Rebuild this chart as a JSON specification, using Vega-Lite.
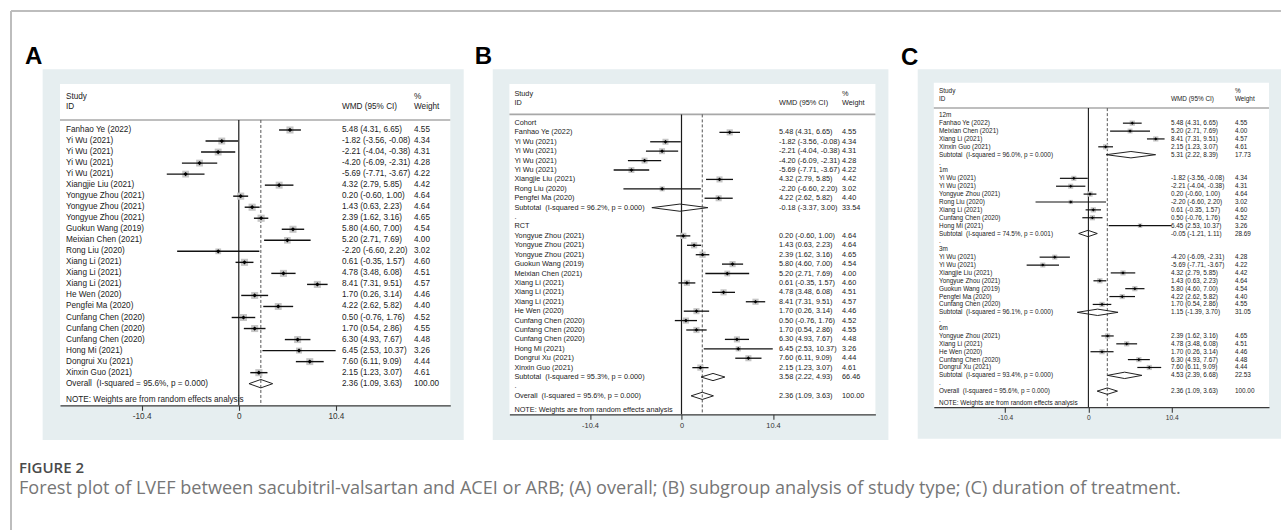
{
  "$schema": "https://vega.github.io/schema/vega-lite/v6.json",
  "background": "white",
  "padding": {"left": 9, "top": 9, "right": 0, "bottom": 0},
  "bounds": "flush",
  "spacing": 58.4,
  "resolve": {"scale": {"size": "independent"}},
  "config": {
    "view": {"stroke": null},
    "axisY": {"disable": true},
    "text": {"font": "Liberation Sans"}
  },
  "datasets": {
    "A": [
      {"r":0,"k":"s","id":"Fanhao Ye (2022)","est":5.48,"lo":4.31,"hi":6.65,"w":4.55,"ci":"5.48 (4.31, 6.65)","wt":"4.55"},
      {"r":1,"k":"s","id":"Yi Wu (2021)","est":-1.82,"lo":-3.56,"hi":-0.08,"w":4.34,"ci":"-1.82 (-3.56, -0.08)","wt":"4.34"},
      {"r":2,"k":"s","id":"Yi Wu (2021)","est":-2.21,"lo":-4.04,"hi":-0.38,"w":4.31,"ci":"-2.21 (-4.04, -0.38)","wt":"4.31"},
      {"r":3,"k":"s","id":"Yi Wu (2021)","est":-4.20,"lo":-6.09,"hi":-2.31,"w":4.28,"ci":"-4.20 (-6.09, -2.31)","wt":"4.28"},
      {"r":4,"k":"s","id":"Yi Wu (2021)","est":-5.69,"lo":-7.71,"hi":-3.67,"w":4.22,"ci":"-5.69 (-7.71, -3.67)","wt":"4.22"},
      {"r":5,"k":"s","id":"Xiangjie Liu (2021)","est":4.32,"lo":2.79,"hi":5.85,"w":4.42,"ci":"4.32 (2.79, 5.85)","wt":"4.42"},
      {"r":6,"k":"s","id":"Yongyue Zhou (2021)","est":0.20,"lo":-0.60,"hi":1.00,"w":4.64,"ci":"0.20 (-0.60, 1.00)","wt":"4.64"},
      {"r":7,"k":"s","id":"Yongyue Zhou (2021)","est":1.43,"lo":0.63,"hi":2.23,"w":4.64,"ci":"1.43 (0.63, 2.23)","wt":"4.64"},
      {"r":8,"k":"s","id":"Yongyue Zhou (2021)","est":2.39,"lo":1.62,"hi":3.16,"w":4.65,"ci":"2.39 (1.62, 3.16)","wt":"4.65"},
      {"r":9,"k":"s","id":"Guokun Wang (2019)","est":5.80,"lo":4.60,"hi":7.00,"w":4.54,"ci":"5.80 (4.60, 7.00)","wt":"4.54"},
      {"r":10,"k":"s","id":"Meixian Chen (2021)","est":5.20,"lo":2.71,"hi":7.69,"w":4.00,"ci":"5.20 (2.71, 7.69)","wt":"4.00"},
      {"r":11,"k":"s","id":"Rong Liu (2020)","est":-2.20,"lo":-6.60,"hi":2.20,"w":3.02,"ci":"-2.20 (-6.60, 2.20)","wt":"3.02"},
      {"r":12,"k":"s","id":"Xiang Li (2021)","est":0.61,"lo":-0.35,"hi":1.57,"w":4.60,"ci":"0.61 (-0.35, 1.57)","wt":"4.60"},
      {"r":13,"k":"s","id":"Xiang Li (2021)","est":4.78,"lo":3.48,"hi":6.08,"w":4.51,"ci":"4.78 (3.48, 6.08)","wt":"4.51"},
      {"r":14,"k":"s","id":"Xiang Li (2021)","est":8.41,"lo":7.31,"hi":9.51,"w":4.57,"ci":"8.41 (7.31, 9.51)","wt":"4.57"},
      {"r":15,"k":"s","id":"He Wen (2020)","est":1.70,"lo":0.26,"hi":3.14,"w":4.46,"ci":"1.70 (0.26, 3.14)","wt":"4.46"},
      {"r":16,"k":"s","id":"Pengfei Ma (2020)","est":4.22,"lo":2.62,"hi":5.82,"w":4.40,"ci":"4.22 (2.62, 5.82)","wt":"4.40"},
      {"r":17,"k":"s","id":"Cunfang Chen (2020)","est":0.50,"lo":-0.76,"hi":1.76,"w":4.52,"ci":"0.50 (-0.76, 1.76)","wt":"4.52"},
      {"r":18,"k":"s","id":"Cunfang Chen (2020)","est":1.70,"lo":0.54,"hi":2.86,"w":4.55,"ci":"1.70 (0.54, 2.86)","wt":"4.55"},
      {"r":19,"k":"s","id":"Cunfang Chen (2020)","est":6.30,"lo":4.93,"hi":7.67,"w":4.48,"ci":"6.30 (4.93, 7.67)","wt":"4.48"},
      {"r":20,"k":"s","id":"Hong Mi (2021)","est":6.45,"lo":2.53,"hi":10.37,"w":3.26,"ci":"6.45 (2.53, 10.37)","wt":"3.26"},
      {"r":21,"k":"s","id":"Dongrui Xu (2021)","est":7.60,"lo":6.11,"hi":9.09,"w":4.44,"ci":"7.60 (6.11, 9.09)","wt":"4.44"},
      {"r":22,"k":"s","id":"Xinxin Guo (2021)","est":2.15,"lo":1.23,"hi":3.07,"w":4.61,"ci":"2.15 (1.23, 3.07)","wt":"4.61"},
      {"r":23,"k":"d","id":"Overall\u00a0 (I-squared = 95.6%, p = 0.000)","est":2.36,"lo":1.09,"hi":3.63,"w":100,"ci":"2.36 (1.09, 3.63)","wt":"100.00"}
    ],
    "B": [
      {"r":0,"k":"g","id":"Cohort"},
      {"r":1,"k":"s","id":"Fanhao Ye (2022)","est":5.48,"lo":4.31,"hi":6.65,"w":4.55,"ci":"5.48 (4.31, 6.65)","wt":"4.55"},
      {"r":2,"k":"s","id":"Yi Wu (2021)","est":-1.82,"lo":-3.56,"hi":-0.08,"w":4.34,"ci":"-1.82 (-3.56, -0.08)","wt":"4.34"},
      {"r":3,"k":"s","id":"Yi Wu (2021)","est":-2.21,"lo":-4.04,"hi":-0.38,"w":4.31,"ci":"-2.21 (-4.04, -0.38)","wt":"4.31"},
      {"r":4,"k":"s","id":"Yi Wu (2021)","est":-4.20,"lo":-6.09,"hi":-2.31,"w":4.28,"ci":"-4.20 (-6.09, -2.31)","wt":"4.28"},
      {"r":5,"k":"s","id":"Yi Wu (2021)","est":-5.69,"lo":-7.71,"hi":-3.67,"w":4.22,"ci":"-5.69 (-7.71, -3.67)","wt":"4.22"},
      {"r":6,"k":"s","id":"Xiangjie Liu (2021)","est":4.32,"lo":2.79,"hi":5.85,"w":4.42,"ci":"4.32 (2.79, 5.85)","wt":"4.42"},
      {"r":7,"k":"s","id":"Rong Liu (2020)","est":-2.20,"lo":-6.60,"hi":2.20,"w":3.02,"ci":"-2.20 (-6.60, 2.20)","wt":"3.02"},
      {"r":8,"k":"s","id":"Pengfei Ma (2020)","est":4.22,"lo":2.62,"hi":5.82,"w":4.40,"ci":"4.22 (2.62, 5.82)","wt":"4.40"},
      {"r":9,"k":"d","id":"Subtotal\u00a0 (I-squared = 96.2%, p = 0.000)","est":-0.18,"lo":-3.37,"hi":3.00,"w":33.54,"ci":"-0.18 (-3.37, 3.00)","wt":"33.54"},
      {"r":10,"k":"b","id":"."},
      {"r":11,"k":"g","id":"RCT"},
      {"r":12,"k":"s","id":"Yongyue Zhou (2021)","est":0.20,"lo":-0.60,"hi":1.00,"w":4.64,"ci":"0.20 (-0.60, 1.00)","wt":"4.64"},
      {"r":13,"k":"s","id":"Yongyue Zhou (2021)","est":1.43,"lo":0.63,"hi":2.23,"w":4.64,"ci":"1.43 (0.63, 2.23)","wt":"4.64"},
      {"r":14,"k":"s","id":"Yongyue Zhou (2021)","est":2.39,"lo":1.62,"hi":3.16,"w":4.65,"ci":"2.39 (1.62, 3.16)","wt":"4.65"},
      {"r":15,"k":"s","id":"Guokun Wang (2019)","est":5.80,"lo":4.60,"hi":7.00,"w":4.54,"ci":"5.80 (4.60, 7.00)","wt":"4.54"},
      {"r":16,"k":"s","id":"Meixian Chen (2021)","est":5.20,"lo":2.71,"hi":7.69,"w":4.00,"ci":"5.20 (2.71, 7.69)","wt":"4.00"},
      {"r":17,"k":"s","id":"Xiang Li (2021)","est":0.61,"lo":-0.35,"hi":1.57,"w":4.60,"ci":"0.61 (-0.35, 1.57)","wt":"4.60"},
      {"r":18,"k":"s","id":"Xiang Li (2021)","est":4.78,"lo":3.48,"hi":6.08,"w":4.51,"ci":"4.78 (3.48, 6.08)","wt":"4.51"},
      {"r":19,"k":"s","id":"Xiang Li (2021)","est":8.41,"lo":7.31,"hi":9.51,"w":4.57,"ci":"8.41 (7.31, 9.51)","wt":"4.57"},
      {"r":20,"k":"s","id":"He Wen (2020)","est":1.70,"lo":0.26,"hi":3.14,"w":4.46,"ci":"1.70 (0.26, 3.14)","wt":"4.46"},
      {"r":21,"k":"s","id":"Cunfang Chen (2020)","est":0.50,"lo":-0.76,"hi":1.76,"w":4.52,"ci":"0.50 (-0.76, 1.76)","wt":"4.52"},
      {"r":22,"k":"s","id":"Cunfang Chen (2020)","est":1.70,"lo":0.54,"hi":2.86,"w":4.55,"ci":"1.70 (0.54, 2.86)","wt":"4.55"},
      {"r":23,"k":"s","id":"Cunfang Chen (2020)","est":6.30,"lo":4.93,"hi":7.67,"w":4.48,"ci":"6.30 (4.93, 7.67)","wt":"4.48"},
      {"r":24,"k":"s","id":"Hong Mi (2021)","est":6.45,"lo":2.53,"hi":10.37,"w":3.26,"ci":"6.45 (2.53, 10.37)","wt":"3.26"},
      {"r":25,"k":"s","id":"Dongrui Xu (2021)","est":7.60,"lo":6.11,"hi":9.09,"w":4.44,"ci":"7.60 (6.11, 9.09)","wt":"4.44"},
      {"r":26,"k":"s","id":"Xinxin Guo (2021)","est":2.15,"lo":1.23,"hi":3.07,"w":4.61,"ci":"2.15 (1.23, 3.07)","wt":"4.61"},
      {"r":27,"k":"d","id":"Subtotal\u00a0 (I-squared = 95.3%, p = 0.000)","est":3.58,"lo":2.22,"hi":4.93,"w":66.46,"ci":"3.58 (2.22, 4.93)","wt":"66.46"},
      {"r":28,"k":"b","id":"."},
      {"r":29,"k":"d","id":"Overall\u00a0 (I-squared = 95.6%, p = 0.000)","est":2.36,"lo":1.09,"hi":3.63,"w":100,"ci":"2.36 (1.09, 3.63)","wt":"100.00"}
    ],
    "C": [
      {"r":0,"k":"g","id":"12m"},
      {"r":1,"k":"s","id":"Fanhao Ye (2022)","est":5.48,"lo":4.31,"hi":6.65,"w":4.55,"ci":"5.48 (4.31, 6.65)","wt":"4.55"},
      {"r":2,"k":"s","id":"Meixian Chen (2021)","est":5.20,"lo":2.71,"hi":7.69,"w":4.00,"ci":"5.20 (2.71, 7.69)","wt":"4.00"},
      {"r":3,"k":"s","id":"Xiang Li (2021)","est":8.41,"lo":7.31,"hi":9.51,"w":4.57,"ci":"8.41 (7.31, 9.51)","wt":"4.57"},
      {"r":4,"k":"s","id":"Xinxin Guo (2021)","est":2.15,"lo":1.23,"hi":3.07,"w":4.61,"ci":"2.15 (1.23, 3.07)","wt":"4.61"},
      {"r":5,"k":"d","id":"Subtotal\u00a0 (I-squared = 96.0%, p = 0.000)","est":5.31,"lo":2.22,"hi":8.39,"w":17.73,"ci":"5.31 (2.22, 8.39)","wt":"17.73"},
      {"r":6,"k":"b","id":"."},
      {"r":7,"k":"g","id":"1m"},
      {"r":8,"k":"s","id":"Yi Wu (2021)","est":-1.82,"lo":-3.56,"hi":-0.08,"w":4.34,"ci":"-1.82 (-3.56, -0.08)","wt":"4.34"},
      {"r":9,"k":"s","id":"Yi Wu (2021)","est":-2.21,"lo":-4.04,"hi":-0.38,"w":4.31,"ci":"-2.21 (-4.04, -0.38)","wt":"4.31"},
      {"r":10,"k":"s","id":"Yongyue Zhou (2021)","est":0.20,"lo":-0.60,"hi":1.00,"w":4.64,"ci":"0.20 (-0.60, 1.00)","wt":"4.64"},
      {"r":11,"k":"s","id":"Rong Liu (2020)","est":-2.20,"lo":-6.60,"hi":2.20,"w":3.02,"ci":"-2.20 (-6.60, 2.20)","wt":"3.02"},
      {"r":12,"k":"s","id":"Xiang Li (2021)","est":0.61,"lo":-0.35,"hi":1.57,"w":4.60,"ci":"0.61 (-0.35, 1.57)","wt":"4.60"},
      {"r":13,"k":"s","id":"Cunfang Chen (2020)","est":0.50,"lo":-0.76,"hi":1.76,"w":4.52,"ci":"0.50 (-0.76, 1.76)","wt":"4.52"},
      {"r":14,"k":"s","id":"Hong Mi (2021)","est":6.45,"lo":2.53,"hi":10.37,"w":3.26,"ci":"6.45 (2.53, 10.37)","wt":"3.26"},
      {"r":15,"k":"d","id":"Subtotal\u00a0 (I-squared = 74.5%, p = 0.001)","est":-0.05,"lo":-1.21,"hi":1.11,"w":28.69,"ci":"-0.05 (-1.21, 1.11)","wt":"28.69"},
      {"r":16,"k":"b","id":"."},
      {"r":17,"k":"g","id":"3m"},
      {"r":18,"k":"s","id":"Yi Wu (2021)","est":-4.20,"lo":-6.09,"hi":-2.31,"w":4.28,"ci":"-4.20 (-6.09, -2.31)","wt":"4.28"},
      {"r":19,"k":"s","id":"Yi Wu (2021)","est":-5.69,"lo":-7.71,"hi":-3.67,"w":4.22,"ci":"-5.69 (-7.71, -3.67)","wt":"4.22"},
      {"r":20,"k":"s","id":"Xiangjie Liu (2021)","est":4.32,"lo":2.79,"hi":5.85,"w":4.42,"ci":"4.32 (2.79, 5.85)","wt":"4.42"},
      {"r":21,"k":"s","id":"Yongyue Zhou (2021)","est":1.43,"lo":0.63,"hi":2.23,"w":4.64,"ci":"1.43 (0.63, 2.23)","wt":"4.64"},
      {"r":22,"k":"s","id":"Guokun Wang (2019)","est":5.80,"lo":4.60,"hi":7.00,"w":4.54,"ci":"5.80 (4.60, 7.00)","wt":"4.54"},
      {"r":23,"k":"s","id":"Pengfei Ma (2020)","est":4.22,"lo":2.62,"hi":5.82,"w":4.40,"ci":"4.22 (2.62, 5.82)","wt":"4.40"},
      {"r":24,"k":"s","id":"Cunfang Chen (2020)","est":1.70,"lo":0.54,"hi":2.86,"w":4.55,"ci":"1.70 (0.54, 2.86)","wt":"4.55"},
      {"r":25,"k":"d","id":"Subtotal\u00a0 (I-squared = 96.1%, p = 0.000)","est":1.15,"lo":-1.39,"hi":3.70,"w":31.05,"ci":"1.15 (-1.39, 3.70)","wt":"31.05"},
      {"r":26,"k":"b","id":"."},
      {"r":27,"k":"g","id":"6m"},
      {"r":28,"k":"s","id":"Yongyue Zhou (2021)","est":2.39,"lo":1.62,"hi":3.16,"w":4.65,"ci":"2.39 (1.62, 3.16)","wt":"4.65"},
      {"r":29,"k":"s","id":"Xiang Li (2021)","est":4.78,"lo":3.48,"hi":6.08,"w":4.51,"ci":"4.78 (3.48, 6.08)","wt":"4.51"},
      {"r":30,"k":"s","id":"He Wen (2020)","est":1.70,"lo":0.26,"hi":3.14,"w":4.46,"ci":"1.70 (0.26, 3.14)","wt":"4.46"},
      {"r":31,"k":"s","id":"Cunfang Chen (2020)","est":6.30,"lo":4.93,"hi":7.67,"w":4.48,"ci":"6.30 (4.93, 7.67)","wt":"4.48"},
      {"r":32,"k":"s","id":"Dongrui Xu (2021)","est":7.60,"lo":6.11,"hi":9.09,"w":4.44,"ci":"7.60 (6.11, 9.09)","wt":"4.44"},
      {"r":33,"k":"d","id":"Subtotal\u00a0 (I-squared = 93.4%, p = 0.000)","est":4.53,"lo":2.39,"hi":6.68,"w":22.53,"ci":"4.53 (2.39, 6.68)","wt":"22.53"},
      {"r":34,"k":"b","id":"."},
      {"r":35,"k":"d","id":"Overall\u00a0 (I-squared = 95.6%, p = 0.000)","est":2.36,"lo":1.09,"hi":3.63,"w":100,"ci":"2.36 (1.09, 3.63)","wt":"100.00"}
    ]
  },
  "hconcat": [
    {
      "width": 390.3,
      "height": 321.3,
      "data": {"name": "A"},
      "layer": [
        {"data": {"values": [{}]}, "mark": {"type": "rect", "color": "#e6eef0"},
         "encoding": {
           "x": {"datum": -21.0, "type": "quantitative", "scale": {"domain": [-19.143, 22.645], "nice": false, "zero": false},
                 "axis": {"values": [-10.4, 0, 10.4], "title": null, "grid": false, "domainColor": "#3a3a3a", "domainWidth": 1.2, "tickColor": "#3a3a3a", "tickWidth": 1.1, "tickSize": 5, "labelFont": "Liberation Sans", "labelFontSize": 8.2, "labelColor": "#333", "labelPadding": 2, "labelFlush": false, "labelOverlap": false, "labelExpr": "datum.value == 0 ? '0' : (datum.value < 0 ? '-' : '') + format(abs(datum.value), '.1f')", "zindex": 1}},
           "x2": {"datum": 24.08},
           "y": {"datum": -5.503, "type": "quantitative", "scale": {"domain": [-4.17, 24.96], "nice": false, "zero": false, "reverse": true}},
           "y2": {"datum": 28.105}}},
        {"data": {"values": [{}]}, "mark": {"type": "rect", "color": "#ffffff"},
         "encoding": {"x": {"datum": -19.143}, "x2": {"datum": 22.645}, "y": {"datum": -4.17}, "y2": {"datum": 24.96}}},
        {"data": {"values": [{}]}, "mark": {"type": "rule", "color": "#a8a8a8", "strokeWidth": 1.6},
         "encoding": {"x": {"datum": -19.143}, "x2": {"datum": 22.645}, "y": {"datum": -0.91}}},
        {"data": {"values": [{}]}, "mark": {"type": "rule", "color": "#1a1a1a", "strokeWidth": 1.2},
         "encoding": {"x": {"datum": 0}, "y": {"datum": -0.91}, "y2": {"datum": 24.96}}},
        {"data": {"values": [{}]}, "mark": {"type": "rule", "color": "#555555", "strokeWidth": 1, "strokeDash": [3, 2]},
         "encoding": {"x": {"datum": 2.36}, "y": {"datum": -0.91}, "y2": {"datum": 24.96}}},
        {"transform": [{"filter": "datum.k == 's'"}], "mark": {"type": "point", "shape": "square", "filled": true, "color": "#c6c6c6", "opacity": 1},
         "encoding": {"x": {"field": "est", "type": "quantitative"}, "y": {"field": "r", "type": "quantitative"},
                      "size": {"field": "w", "type": "quantitative", "scale": {"domain": [0, 5], "range": [0, 55]}, "legend": null}}},
        {"transform": [{"filter": "datum.k == 's'"}], "mark": {"type": "rule", "color": "#111111", "strokeWidth": 1.4},
         "encoding": {"x": {"field": "lo", "type": "quantitative"}, "x2": {"field": "hi"}, "y": {"field": "r", "type": "quantitative"}}},
        {"transform": [{"filter": "datum.k == 's'"}], "mark": {"type": "point", "shape": "diamond", "filled": true, "color": "#000000", "size": 18, "opacity": 1},
         "encoding": {"x": {"field": "est", "type": "quantitative"}, "y": {"field": "r", "type": "quantitative"}}},
        {"transform": [{"filter": "datum.k == 'd'"}], "mark": {"type": "rule", "color": "#222222", "strokeWidth": 1, "y2Offset": -4.2},
         "encoding": {"x": {"field": "lo", "type": "quantitative"}, "x2": {"field": "est"}, "y": {"field": "r", "type": "quantitative"}, "y2": {"field": "r"}}},
        {"transform": [{"filter": "datum.k == 'd'"}], "mark": {"type": "rule", "color": "#222222", "strokeWidth": 1, "yOffset": -4.2},
         "encoding": {"x": {"field": "est", "type": "quantitative"}, "x2": {"field": "hi"}, "y": {"field": "r", "type": "quantitative"}, "y2": {"field": "r"}}},
        {"transform": [{"filter": "datum.k == 'd'"}], "mark": {"type": "rule", "color": "#222222", "strokeWidth": 1, "y2Offset": 4.2},
         "encoding": {"x": {"field": "lo", "type": "quantitative"}, "x2": {"field": "est"}, "y": {"field": "r", "type": "quantitative"}, "y2": {"field": "r"}}},
        {"transform": [{"filter": "datum.k == 'd'"}], "mark": {"type": "rule", "color": "#222222", "strokeWidth": 1, "yOffset": 4.2},
         "encoding": {"x": {"field": "est", "type": "quantitative"}, "x2": {"field": "hi"}, "y": {"field": "r", "type": "quantitative"}, "y2": {"field": "r"}}},
        {"mark": {"type": "text", "align": "left", "baseline": "middle", "fontSize": 8.2, "color": "#222222"},
         "encoding": {"x": {"datum": -18.5}, "y": {"field": "r", "type": "quantitative"}, "text": {"field": "id"}}},
        {"transform": [{"filter": "isValid(datum.ci)"}], "mark": {"type": "text", "align": "left", "baseline": "middle", "fontSize": 8.2, "color": "#222222"},
         "encoding": {"x": {"datum": 11.05}, "y": {"field": "r", "type": "quantitative"}, "text": {"field": "ci"}}},
        {"transform": [{"filter": "isValid(datum.wt)"}], "mark": {"type": "text", "align": "left", "baseline": "middle", "fontSize": 8.2, "color": "#222222"},
         "encoding": {"x": {"datum": 18.76}, "y": {"field": "r", "type": "quantitative"}, "text": {"field": "wt"}}},
        {"data": {"values": [{}]}, "mark": {"type": "text", "align": "left", "baseline": "middle", "fontSize": 8.2, "color": "#222222", "text": "Study"},
         "encoding": {"x": {"datum": -18.5}, "y": {"datum": -3.0}}},
        {"data": {"values": [{}]}, "mark": {"type": "text", "align": "left", "baseline": "middle", "fontSize": 8.2, "color": "#222222", "text": "ID"},
         "encoding": {"x": {"datum": -18.5}, "y": {"datum": -2.08}}},
        {"data": {"values": [{}]}, "mark": {"type": "text", "align": "left", "baseline": "middle", "fontSize": 8.2, "color": "#222222", "text": "WMD (95% CI)"},
         "encoding": {"x": {"datum": 11.05}, "y": {"datum": -2.08}}},
        {"data": {"values": [{}]}, "mark": {"type": "text", "align": "left", "baseline": "middle", "fontSize": 8.2, "color": "#222222", "text": "%"},
         "encoding": {"x": {"datum": 18.76}, "y": {"datum": -3.0}}},
        {"data": {"values": [{}]}, "mark": {"type": "text", "align": "left", "baseline": "middle", "fontSize": 8.2, "color": "#222222", "text": "Weight"},
         "encoding": {"x": {"datum": 18.76}, "y": {"datum": -2.08}}},
        {"data": {"values": [{}]}, "mark": {"type": "text", "align": "left", "baseline": "middle", "fontSize": 8.2, "color": "#222222", "text": "NOTE: Weights are from random effects analysis"},
         "encoding": {"x": {"datum": -18.5}, "y": {"datum": 24.5}}},
        {"data": {"values": [{}]}, "mark": {"type": "text", "align": "left", "baseline": "alphabetic", "fontSize": 24, "fontWeight": "bold", "color": "#000000", "text": "A"},
         "encoding": {"x": {"datum": -22.89}, "y": {"datum": -5.96}}},
        {"data": {"values": [{}]}, "mark": {"type": "rule", "color": "#bdbdbd", "strokeWidth": 2},
         "encoding": {"x": {"datum": -24.39}, "x2": {"datum": 111.58}, "y": {"datum": -10.79}}},
        {"data": {"values": [{}]}, "mark": {"type": "rule", "color": "#bdbdbd", "strokeWidth": 2},
         "encoding": {"x": {"datum": -24.39}, "y": {"datum": -10.79}, "y2": {"datum": 36.26}}},
        {"data": {"values": [{}]}, "mark": {"type": "text", "align": "left", "baseline": "middle", "font": "Open Sans", "fontSize": 15, "fontWeight": 600, "color": "#4a4a4a", "text": "FIGURE 2"},
         "encoding": {"x": {"datum": -23.53}, "y": {"datum": 30.64}}},
        {"data": {"values": [{}]}, "mark": {"type": "text", "align": "left", "baseline": "middle", "font": "Open Sans", "fontSize": 18.1, "color": "#767676", "text": "Forest plot of LVEF between sacubitril-valsartan and ACEI or ARB; (A) overall; (B) subgroup analysis of study type; (C) duration of treatment."},
         "encoding": {"x": {"datum": -23.53}, "y": {"datum": 32.55}}}
      ]
    },
    {
      "width": 366,
      "height": 330.3,
      "data": {"name": "B"},
      "layer": [
        {"data": {"values": [{}]}, "mark": {"type": "rect", "color": "#e6eef0"},
         "encoding": {
           "x": {"datum": -21.45, "type": "quantitative", "scale": {"domain": [-19.557, 22.034], "nice": false, "zero": false},
                 "axis": {"values": [-10.4, 0, 10.4], "title": null, "grid": false, "domainColor": "#3a3a3a", "domainWidth": 1.2, "tickColor": "#3a3a3a", "tickWidth": 1.1, "tickSize": 5, "labelFont": "Liberation Sans", "labelFontSize": 7.4, "labelColor": "#333", "labelPadding": 2, "labelFlush": false, "labelOverlap": false, "labelExpr": "datum.value == 0 ? '0' : (datum.value < 0 ? '-' : '') + format(abs(datum.value), '.1f')", "zindex": 1}},
           "x2": {"datum": 23.51},
           "y": {"datum": -5.71, "type": "quantitative", "scale": {"domain": [-4.14, 30.96], "nice": false, "zero": false, "reverse": true}},
           "y2": {"datum": 33.69}}},
        {"data": {"values": [{}]}, "mark": {"type": "rect", "color": "#ffffff"},
         "encoding": {"x": {"datum": -19.557}, "x2": {"datum": 22.034}, "y": {"datum": -4.14}, "y2": {"datum": 30.96}}},
        {"data": {"values": [{}]}, "mark": {"type": "rule", "color": "#a8a8a8", "strokeWidth": 1.6},
         "encoding": {"x": {"datum": -19.557}, "x2": {"datum": 22.034}, "y": {"datum": -0.91}}},
        {"data": {"values": [{}]}, "mark": {"type": "rule", "color": "#1a1a1a", "strokeWidth": 1.2},
         "encoding": {"x": {"datum": 0}, "y": {"datum": -0.91}, "y2": {"datum": 30.96}}},
        {"data": {"values": [{}]}, "mark": {"type": "rule", "color": "#555555", "strokeWidth": 1, "strokeDash": [3, 2]},
         "encoding": {"x": {"datum": 2.36}, "y": {"datum": -0.91}, "y2": {"datum": 30.96}}},
        {"transform": [{"filter": "datum.k == 's'"}], "mark": {"type": "point", "shape": "square", "filled": true, "color": "#c6c6c6", "opacity": 1},
         "encoding": {"x": {"field": "est", "type": "quantitative"}, "y": {"field": "r", "type": "quantitative"},
                      "size": {"field": "w", "type": "quantitative", "scale": {"domain": [0, 5], "range": [0, 42]}, "legend": null}}},
        {"transform": [{"filter": "datum.k == 's'"}], "mark": {"type": "rule", "color": "#111111", "strokeWidth": 1.3},
         "encoding": {"x": {"field": "lo", "type": "quantitative"}, "x2": {"field": "hi"}, "y": {"field": "r", "type": "quantitative"}}},
        {"transform": [{"filter": "datum.k == 's'"}], "mark": {"type": "point", "shape": "diamond", "filled": true, "color": "#000000", "size": 14, "opacity": 1},
         "encoding": {"x": {"field": "est", "type": "quantitative"}, "y": {"field": "r", "type": "quantitative"}}},
        {"transform": [{"filter": "datum.k == 'd'"}], "mark": {"type": "rule", "color": "#222222", "strokeWidth": 1, "y2Offset": -3.6},
         "encoding": {"x": {"field": "lo", "type": "quantitative"}, "x2": {"field": "est"}, "y": {"field": "r", "type": "quantitative"}, "y2": {"field": "r"}}},
        {"transform": [{"filter": "datum.k == 'd'"}], "mark": {"type": "rule", "color": "#222222", "strokeWidth": 1, "yOffset": -3.6},
         "encoding": {"x": {"field": "est", "type": "quantitative"}, "x2": {"field": "hi"}, "y": {"field": "r", "type": "quantitative"}, "y2": {"field": "r"}}},
        {"transform": [{"filter": "datum.k == 'd'"}], "mark": {"type": "rule", "color": "#222222", "strokeWidth": 1, "y2Offset": 3.6},
         "encoding": {"x": {"field": "lo", "type": "quantitative"}, "x2": {"field": "est"}, "y": {"field": "r", "type": "quantitative"}, "y2": {"field": "r"}}},
        {"transform": [{"filter": "datum.k == 'd'"}], "mark": {"type": "rule", "color": "#222222", "strokeWidth": 1, "yOffset": 3.6},
         "encoding": {"x": {"field": "est", "type": "quantitative"}, "x2": {"field": "hi"}, "y": {"field": "r", "type": "quantitative"}, "y2": {"field": "r"}}},
        {"mark": {"type": "text", "align": "left", "baseline": "middle", "fontSize": 7.3, "color": "#222222"},
         "encoding": {"x": {"datum": -18.99}, "y": {"field": "r", "type": "quantitative"}, "text": {"field": "id"}}},
        {"transform": [{"filter": "isValid(datum.ci)"}], "mark": {"type": "text", "align": "left", "baseline": "middle", "fontSize": 7.3, "color": "#222222"},
         "encoding": {"x": {"datum": 11.08}, "y": {"field": "r", "type": "quantitative"}, "text": {"field": "ci"}}},
        {"transform": [{"filter": "isValid(datum.wt)"}], "mark": {"type": "text", "align": "left", "baseline": "middle", "fontSize": 7.3, "color": "#222222"},
         "encoding": {"x": {"datum": 18.24}, "y": {"field": "r", "type": "quantitative"}, "text": {"field": "wt"}}},
        {"data": {"values": [{}]}, "mark": {"type": "text", "align": "left", "baseline": "middle", "fontSize": 7.3, "color": "#222222", "text": "Study"},
         "encoding": {"x": {"datum": -18.99}, "y": {"datum": -3.05}}},
        {"data": {"values": [{}]}, "mark": {"type": "text", "align": "left", "baseline": "middle", "fontSize": 7.3, "color": "#222222", "text": "ID"},
         "encoding": {"x": {"datum": -18.99}, "y": {"datum": -2.08}}},
        {"data": {"values": [{}]}, "mark": {"type": "text", "align": "left", "baseline": "middle", "fontSize": 7.3, "color": "#222222", "text": "WMD (95% CI)"},
         "encoding": {"x": {"datum": 11.08}, "y": {"datum": -2.08}}},
        {"data": {"values": [{}]}, "mark": {"type": "text", "align": "left", "baseline": "middle", "fontSize": 7.3, "color": "#222222", "text": "%"},
         "encoding": {"x": {"datum": 18.24}, "y": {"datum": -3.05}}},
        {"data": {"values": [{}]}, "mark": {"type": "text", "align": "left", "baseline": "middle", "fontSize": 7.3, "color": "#222222", "text": "Weight"},
         "encoding": {"x": {"datum": 18.24}, "y": {"datum": -2.08}}},
        {"data": {"values": [{}]}, "mark": {"type": "text", "align": "left", "baseline": "middle", "fontSize": 7.3, "color": "#222222", "text": "NOTE: Weights are from random effects analysis"},
         "encoding": {"x": {"datum": -18.99}, "y": {"datum": 30.5}}},
        {"data": {"values": [{}]}, "mark": {"type": "text", "align": "left", "baseline": "alphabetic", "fontSize": 24, "fontWeight": "bold", "color": "#000000", "text": "B"},
         "encoding": {"x": {"datum": -23.5}, "y": {"datum": -6.24}}}
      ]
    },
    {
      "width": 335.2,
      "height": 323.2,
      "data": {"name": "C"},
      "layer": [
        {"data": {"values": [{}]}, "mark": {"type": "rect", "color": "#e6eef0"},
         "encoding": {
           "x": {"datum": -21.31, "type": "quantitative", "scale": {"domain": [-19.301, 22.547], "nice": false, "zero": false},
                 "axis": {"values": [-10.4, 0, 10.4], "title": null, "grid": false, "domainColor": "#3a3a3a", "domainWidth": 1.2, "tickColor": "#3a3a3a", "tickWidth": 1.1, "tickSize": 5, "labelFont": "Liberation Sans", "labelFontSize": 6.6, "labelColor": "#333", "labelPadding": 2, "labelFlush": false, "labelOverlap": false, "labelExpr": "datum.value == 0 ? '0' : (datum.value < 0 ? '-' : '') + format(abs(datum.value), '.1f')", "zindex": 1}},
           "x2": {"datum": 24.13},
           "y": {"datum": -5.84, "type": "quantitative", "scale": {"domain": [-3.97, 37.04], "nice": false, "zero": false, "reverse": true}},
           "y2": {"datum": 41.04}}},
        {"data": {"values": [{}]}, "mark": {"type": "rect", "color": "#ffffff"},
         "encoding": {"x": {"datum": -19.301}, "x2": {"datum": 22.547}, "y": {"datum": -4.14}, "y2": {"datum": 37.04}}},
        {"data": {"values": [{}]}, "mark": {"type": "rule", "color": "#a8a8a8", "strokeWidth": 1.5},
         "encoding": {"x": {"datum": -19.301}, "x2": {"datum": 22.547}, "y": {"datum": -0.91}}},
        {"data": {"values": [{}]}, "mark": {"type": "rule", "color": "#1a1a1a", "strokeWidth": 1.1},
         "encoding": {"x": {"datum": 0}, "y": {"datum": -0.91}, "y2": {"datum": 37.04}}},
        {"data": {"values": [{}]}, "mark": {"type": "rule", "color": "#555555", "strokeWidth": 1, "strokeDash": [3, 2]},
         "encoding": {"x": {"datum": 2.36}, "y": {"datum": -0.91}, "y2": {"datum": 37.04}}},
        {"transform": [{"filter": "datum.k == 's'"}], "mark": {"type": "point", "shape": "square", "filled": true, "color": "#c6c6c6", "opacity": 1},
         "encoding": {"x": {"field": "est", "type": "quantitative"}, "y": {"field": "r", "type": "quantitative"},
                      "size": {"field": "w", "type": "quantitative", "scale": {"domain": [0, 5], "range": [0, 30]}, "legend": null}}},
        {"transform": [{"filter": "datum.k == 's'"}], "mark": {"type": "rule", "color": "#111111", "strokeWidth": 1.2},
         "encoding": {"x": {"field": "lo", "type": "quantitative"}, "x2": {"field": "hi"}, "y": {"field": "r", "type": "quantitative"}}},
        {"transform": [{"filter": "datum.k == 's'"}], "mark": {"type": "point", "shape": "diamond", "filled": true, "color": "#000000", "size": 10, "opacity": 1},
         "encoding": {"x": {"field": "est", "type": "quantitative"}, "y": {"field": "r", "type": "quantitative"}}},
        {"transform": [{"filter": "datum.k == 'd'"}], "mark": {"type": "rule", "color": "#222222", "strokeWidth": 1, "y2Offset": -3.2},
         "encoding": {"x": {"field": "lo", "type": "quantitative"}, "x2": {"field": "est"}, "y": {"field": "r", "type": "quantitative"}, "y2": {"field": "r"}}},
        {"transform": [{"filter": "datum.k == 'd'"}], "mark": {"type": "rule", "color": "#222222", "strokeWidth": 1, "yOffset": -3.2},
         "encoding": {"x": {"field": "est", "type": "quantitative"}, "x2": {"field": "hi"}, "y": {"field": "r", "type": "quantitative"}, "y2": {"field": "r"}}},
        {"transform": [{"filter": "datum.k == 'd'"}], "mark": {"type": "rule", "color": "#222222", "strokeWidth": 1, "y2Offset": 3.2},
         "encoding": {"x": {"field": "lo", "type": "quantitative"}, "x2": {"field": "est"}, "y": {"field": "r", "type": "quantitative"}, "y2": {"field": "r"}}},
        {"transform": [{"filter": "datum.k == 'd'"}], "mark": {"type": "rule", "color": "#222222", "strokeWidth": 1, "yOffset": 3.2},
         "encoding": {"x": {"field": "est", "type": "quantitative"}, "x2": {"field": "hi"}, "y": {"field": "r", "type": "quantitative"}, "y2": {"field": "r"}}},
        {"mark": {"type": "text", "align": "left", "baseline": "middle", "fontSize": 6.4, "color": "#222222"},
         "encoding": {"x": {"datum": -18.65}, "y": {"field": "r", "type": "quantitative"}, "text": {"field": "id"}}},
        {"transform": [{"filter": "isValid(datum.ci)"}], "mark": {"type": "text", "align": "left", "baseline": "middle", "fontSize": 6.4, "color": "#222222"},
         "encoding": {"x": {"datum": 10.31}, "y": {"field": "r", "type": "quantitative"}, "text": {"field": "ci"}}},
        {"transform": [{"filter": "isValid(datum.wt)"}], "mark": {"type": "text", "align": "left", "baseline": "middle", "fontSize": 6.4, "color": "#222222"},
         "encoding": {"x": {"datum": 18.29}, "y": {"field": "r", "type": "quantitative"}, "text": {"field": "wt"}}},
        {"data": {"values": [{}]}, "mark": {"type": "text", "align": "left", "baseline": "middle", "fontSize": 6.4, "color": "#222222", "text": "Study"},
         "encoding": {"x": {"datum": -18.65}, "y": {"datum": -3.05}}},
        {"data": {"values": [{}]}, "mark": {"type": "text", "align": "left", "baseline": "middle", "fontSize": 6.4, "color": "#222222", "text": "ID"},
         "encoding": {"x": {"datum": -18.65}, "y": {"datum": -2.05}}},
        {"data": {"values": [{}]}, "mark": {"type": "text", "align": "left", "baseline": "middle", "fontSize": 6.4, "color": "#222222", "text": "WMD (95% CI)"},
         "encoding": {"x": {"datum": 10.31}, "y": {"datum": -2.05}}},
        {"data": {"values": [{}]}, "mark": {"type": "text", "align": "left", "baseline": "middle", "fontSize": 6.4, "color": "#222222", "text": "%"},
         "encoding": {"x": {"datum": 18.29}, "y": {"datum": -3.05}}},
        {"data": {"values": [{}]}, "mark": {"type": "text", "align": "left", "baseline": "middle", "fontSize": 6.4, "color": "#222222", "text": "Weight"},
         "encoding": {"x": {"datum": 18.29}, "y": {"datum": -2.05}}},
        {"data": {"values": [{}]}, "mark": {"type": "text", "align": "left", "baseline": "middle", "fontSize": 6.4, "color": "#222222", "text": "NOTE: Weights are from random effects analysis"},
         "encoding": {"x": {"datum": -18.65}, "y": {"datum": 36.5}}},
        {"data": {"values": [{}]}, "mark": {"type": "text", "align": "left", "baseline": "alphabetic", "fontSize": 24, "fontWeight": "bold", "color": "#000000", "text": "C"},
         "encoding": {"x": {"datum": -23.4}, "y": {"datum": -6.38}}}
      ]
    }
  ]
}
